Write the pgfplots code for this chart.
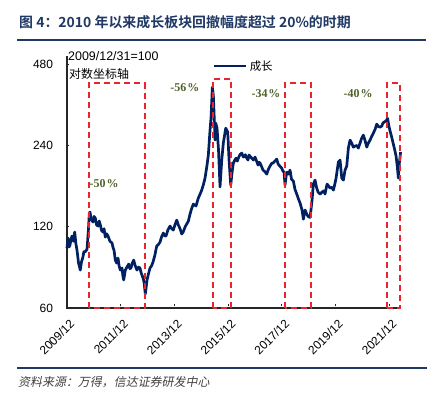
\documentclass[border=0pt]{standalone}
\usepackage{fontspec}
\setmainfont{Liberation Sans}
\newfontfamily\cjk{Noto Sans CJK SC}[BoldFont={Noto Sans CJK SC Bold}]
\newfontfamily\cjkit{Noto Sans CJK SC}[FakeSlant=0.2]
\newfontfamily\tnrb{Liberation Serif Bold}
\usepackage{pgfplots}
\usepackage{pgfplotstable}
\pgfplotsset{compat=1.18}
\definecolor{navy}{RGB}{0,32,96}
\definecolor{boxred}{RGB}{232,36,46}
\definecolor{olivegr}{RGB}{79,98,40}
\definecolor{titleblue}{RGB}{31,56,100}

\pgfplotstableread{
x y
0.000 100.1
0.037 109.0
0.075 101.0
0.112 102.7
0.150 108.0
0.186 110.9
0.240 106.0
0.287 114.7
0.330 104.0
0.372 98.4
0.430 88.0
0.495 82.9
0.540 89.0
0.585 91.9
0.630 97.0
0.670 96.7
0.745 99.0
0.800 118.0
0.831 134.9
0.857 136.0
0.900 128.0
0.968 124.9
1.010 131.0
1.054 129.2
1.100 122.0
1.155 120.7
1.200 126.0
1.240 122.0
1.290 116.0
1.341 114.7
1.380 118.0
1.426 109.9
1.480 113.0
1.527 110.9
1.600 106.0
1.676 104.5
1.720 100.0
1.750 98.4
1.799 90.3
1.850 88.0
1.899 91.9
1.940 86.0
1.985 82.9
2.048 84.4
2.080 79.0
2.112 76.2
2.171 82.9
2.230 85.0
2.298 87.3
2.340 84.0
2.384 84.4
2.430 88.0
2.484 90.3
2.540 86.0
2.607 82.9
2.660 85.0
2.719 84.4
2.760 81.0
2.793 79.5
2.840 77.0
2.868 74.9
2.900 70.0
2.916 67.6
2.950 72.0
2.980 76.2
3.030 80.0
3.091 84.4
3.150 86.0
3.203 88.8
3.270 94.0
3.341 101.8
3.400 103.0
3.464 105.3
3.520 110.0
3.587 113.7
3.640 111.0
3.687 110.9
3.760 117.0
3.836 120.7
3.900 118.0
3.959 116.7
4.020 122.0
4.086 127.0
4.145 121.8
4.210 118.0
4.272 112.8
4.331 115.0
4.400 120.0
4.458 122.8
4.520 126.0
4.581 133.7
4.640 140.0
4.704 145.6
4.804 143.2
4.890 153.3
4.950 158.0
5.017 164.1
5.080 172.0
5.140 181.8
5.214 203.0
5.263 221.2
5.326 273.7
5.363 303.1
5.412 394.9
5.449 368.8
5.486 298.0
5.512 251.3
5.538 290.6
5.587 278.4
5.642 230.8
5.698 168.4
5.762 211.9
5.821 245.0
5.911 278.4
5.985 269.0
6.034 211.9
6.097 171.2
6.145 190.0
6.194 206.6
6.250 212.0
6.294 215.5
6.340 210.0
6.380 215.5
6.440 222.0
6.507 225.0
6.560 218.0
6.592 217.4
6.640 222.0
6.693 215.5
6.740 212.0
6.778 221.2
6.830 218.0
6.879 215.5
6.940 212.0
7.002 217.4
7.060 210.0
7.114 203.0
7.150 208.0
7.188 206.6
7.250 200.0
7.300 194.6
7.370 192.0
7.438 188.0
7.500 196.0
7.561 201.4
7.620 206.0
7.672 206.6
7.740 210.0
7.810 213.7
7.860 205.0
7.896 203.0
7.950 200.0
7.996 197.9
8.040 193.0
8.082 191.3
8.119 171.2
8.160 185.0
8.194 191.3
8.250 188.0
8.305 194.6
8.360 180.0
8.428 177.2
8.490 165.0
8.555 158.6
8.620 152.0
8.678 146.9
8.720 142.0
8.752 138.4
8.801 128.0
8.864 138.4
8.927 133.7
8.976 131.0
9.050 130.0
9.090 140.0
9.125 150.7
9.173 172.7
9.236 178.7
9.290 168.0
9.348 161.3
9.423 158.6
9.497 161.3
9.560 163.0
9.609 158.6
9.683 172.7
9.740 170.0
9.795 166.9
9.860 168.0
9.918 164.1
9.970 172.0
10.019 181.8
10.104 208.3
10.168 211.9
10.231 181.8
10.291 178.7
10.354 194.6
10.417 201.4
10.477 234.8
10.540 251.3
10.600 245.0
10.663 236.7
10.726 238.8
10.790 240.0
10.849 234.8
10.912 245.0
10.970 255.0
11.035 262.3
11.100 250.0
11.162 236.7
11.220 245.0
11.285 251.3
11.350 260.0
11.408 266.8
11.470 275.0
11.534 288.0
11.600 282.0
11.657 280.8
11.721 283.2
11.760 290.0
11.806 293.0
11.860 295.0
11.907 298.0
11.937 303.1
11.980 285.0
12.030 271.3
12.090 258.0
12.142 245.0
12.200 232.0
12.253 219.3
12.300 200.0
12.339 181.8
12.370 205.0
12.402 217.4
12.420 226.9
}\growth

\begin{document}
\begin{tikzpicture}[x=1bp,y=1bp]
\path[use as bounding box] (0,0) rectangle (440,399);
\node[anchor=west, text=titleblue, font=\cjk\bfseries\fontsize{14}{16}\selectfont, inner sep=0] at (19,377) {图 4：2010 年以来成长板块回撤幅度超过 20\%的时期};
\draw[titleblue, line width=1.5bp] (17,359) -- (426,359);
\draw[titleblue, line width=1.5bp] (17,31) -- (427,31);
\node[anchor=west, text=black!75, font=\cjkit\fontsize{12}{14}\selectfont, inner sep=0] at (18,17) {资料来源：万得，信达证券研发中心};
\node[anchor=west, font=\fontsize{12.5}{14}\selectfont, inner sep=0] at (68,343) {2009/12/31=100};
\node[anchor=west, font=\cjk\fontsize{12}{14}\selectfont, inner sep=0] at (69,325) {对数坐标轴};
\begin{axis}[
  at={(67bp,91bp)}, anchor=south west,
  scale only axis, width=333bp, height=252bp,
  xmin=0, xmax=12.4,
  ymode=log, log basis y=2, ymin=60, ymax=515,
  axis x line=bottom, axis y line=left,
  axis line style={-, line width=1.2bp, black!85},
  xtick={0,2,4,6,8,10,12},
  xticklabels={2009/12,2011/12,2013/12,2015/12,2017/12,2019/12,2021/12},
  ytick={60,120,240,480},
  yticklabels={60,120,240,480},
  tick style={black!85, line width=1bp},
  major tick length=3bp,
  xtick style={yshift=3bp},
  xticklabel style={xshift=2bp, yshift=-9bp, rotate=45, anchor=north east, font=\fontsize{12}{14}\selectfont, inner sep=0bp},
  yticklabel style={font=\fontsize{12}{14}\selectfont, xshift=-9bp},
  clip=false,
  legend style={draw=none, fill=none, at={(0.438,0.96)}, anchor=west, font=\cjk\fontsize{11.5}{13}\selectfont, inner sep=0pt},
  legend cell align=left,
  legend image code/.code={\draw[#1] (0bp,0bp) -- (32bp,0bp);},
]
\addplot[navy, line width=2.7bp, line join=round] table {\growth};
\addlegendentry{成长}
\addplot[boxred, line width=1.8bp, dash pattern=on 6bp off 4bp, forget plot] coordinates {(0.819,60) (0.819,408) (2.905,408) (2.905,60) (0.819,60)};
\addplot[boxred, line width=1.8bp, dash pattern=on 6bp off 4bp, forget plot] coordinates {(5.426,60) (5.426,423) (6.108,423) (6.108,60) (5.426,60)};
\addplot[boxred, line width=1.8bp, dash pattern=on 6bp off 4bp, forget plot] coordinates {(8.119,60) (8.119,408) (9.099,408) (9.099,60) (8.119,60)};
\addplot[boxred, line width=1.8bp, dash pattern=on 6bp off 4bp, forget plot] coordinates {(11.907,60) (11.907,408) (12.402,408) (12.402,60) (11.907,60)};
\node[text=olivegr, font=\tnrb\fontsize{12}{14}\selectfont] at (axis cs:1.38,174) {-50\kern1bp\%};
\node[text=olivegr, font=\tnrb\fontsize{12}{14}\selectfont] at (axis cs:4.39,395) {-56\kern1bp\%};
\node[text=olivegr, font=\tnrb\fontsize{12}{14}\selectfont] at (axis cs:7.41,375) {-34\kern1bp\%};
\node[text=olivegr, font=\tnrb\fontsize{12}{14}\selectfont] at (axis cs:10.84,375) {-40\kern1bp\%};
\end{axis}
\end{tikzpicture}
\end{document}
